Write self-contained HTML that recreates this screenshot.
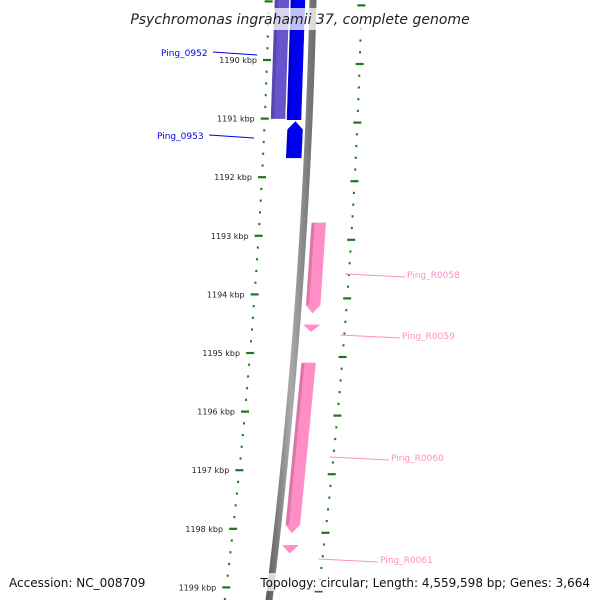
<!DOCTYPE html>
<html><head><meta charset="utf-8"><style>
body{margin:0;background:#fff;}
svg{display:block;font-family:"DejaVu Sans","Liberation Sans",sans-serif;}
</style></head><body>
<svg id="chart" width="600" height="600" viewBox="0 0 600 600">
<defs>
<linearGradient id="gb" x1="0" x2="1"><stop offset="0" stop-color="#555"/><stop offset="0.5" stop-color="#aaa"/><stop offset="1" stop-color="#666"/></linearGradient>
</defs>
<g id="ticks"></g>
<g id="genes"></g>
<g id="labels"></g>
<rect x="130" y="8" width="340" height="22" fill="#fff" fill-opacity="0.75"/>
<text x="300" y="24" text-anchor="middle" font-size="14" font-style="italic" fill="#222">Psychromonas ingrahamii 37, complete genome</text>
<rect x="258" y="573" width="340" height="18" fill="#fff" fill-opacity="0.75"/>
<text x="9" y="587" font-size="12" fill="#111">Accession: NC_008709</text>
<text x="590" y="587" text-anchor="end" font-size="12" fill="#111">Topology: circular; Length: 4,559,598 bp; Genes: 3,664</text>
</svg>
<script>
const majorTicks = [1190,1191,1192,1193,1194,1195,1196,1197,1198,1199];
const tickLabels = ["1190 kbp","1191 kbp","1192 kbp","1193 kbp","1194 kbp","1195 kbp","1196 kbp","1197 kbp","1198 kbp","1199 kbp"];
const geneNames = ["Ping_0952","Ping_0951","Ping_0953","Ping_R0058","Ping_R0059","Ping_R0060","Ping_R0061"];
const geneStart = [1188.9, 1188.9, 1191.05, 1192.78, 1194.52, 1195.17, 1198.28];
const geneEnd   = [1191.0, 1191.02, 1191.67, 1194.32, 1194.62, 1198.07, 1198.40];
const geneStrand = [-1, -1, -1, 1, 1, 1, 1];
const geneColor = ["#6655cc","#0000ee","#0000ee","#ff8ec6","#ff8ec6","#ff8ec6","#ff8ec6"];
const labelY = [52, null, 135, 274, 335, 457, 559];
const labelX = [161, null, 157, 407, 402, 391, 380];

const NS='http://www.w3.org/2000/svg';
function yOf(k){return 60+(k-1190)*58.6;}
function curve(y){return 0.0233*y+8.33e-5*y*y;}
function xAt(base,y){return base-curve(y);}
function mk(tag,attrs,parent){const e=document.createElementNS(NS,tag);for(const k in attrs)e.setAttribute(k,attrs[k]);parent.appendChild(e);return e;}
const tg=document.getElementById('ticks'), gg=document.getElementById('genes'), lg=document.getElementById('labels');

const bpts=[];for(let y=-5;y<=605;y+=5)bpts.push([xAt(313,y),y]);
let bb=mk('polygon',{points:bpts.map(p=>(p[0]-3.5)+','+p[1]).concat(bpts.slice().reverse().map(p=>(p[0]+3.5)+','+p[1])).join(' '),fill:'url(#gb)'},gg);



for(let k=1188.8;k<=1199.4;k+=0.2){
  const kk=Math.round(k*10)/10;const y=yOf(kk);
  const isMaj=Math.abs(kk-Math.round(kk))<0.01;
  const xl=xAt(268.7,y);
  let t=mk('line',{x1:xl-(isMaj?4:1),x2:xl+(isMaj?4:1),y1:y,y2:y,stroke:'#1a7a1a','stroke-width':2.2},tg);
  
  
  const yr=y+4, xr=xAt(361.5,yr);
  let r=mk('line',{x1:xr-(isMaj?4:1),x2:xr+(isMaj?4:1),y1:yr,y2:yr,stroke:'#1a7a1a','stroke-width':2.2},tg);
  
  
}
majorTicks.forEach((k,i)=>{
  const y=yOf(k);
  let t=mk('text',{x:xAt(268.7,y)-10,y:y+3,'text-anchor':'end','font-size':8,fill:'#222'},tg);
  t.textContent=tickLabels[i];
  
  
});

geneNames.forEach((n,i)=>{
  const y1=yOf(geneStart[i]), y2=yOf(geneEnd[i]);
  const off = geneStrand[i]<0 ? (i===0?[-38,-24]:(i===1?[-22,-8]:[-21,-6])) : [8,22];
  const col = geneColor[i];
  const head=Math.min(8,(y2-y1));
  const P=(o,y)=> (xAt(313,y)+o)+','+y;
  let pts;
  if(y2-y1<10){
    pts=[P(off[0]-1,y1),P(off[1]+1,y1),P((off[0]+off[1])/2,y2+1)];
  } else if(geneStrand[i]>0){
    pts=[P(off[0],y1),P(off[1],y1),P(off[1],y2-head),P((off[0]+off[1])/2,y2),P(off[0],y2-head)];
  } else if(i===2){
    pts=[P((off[0]+off[1])/2,y1),P(off[1],y1+head),P(off[1],y2),P(off[0],y2),P(off[0],y1+head)];
  } else {
    pts=[P(off[0],y1),P(off[1],y1),P(off[1],y2),P(off[0],y2)];
  }
  let g=mk('polygon',{points:pts.join(' '),fill:col,stroke:col,'stroke-width':0.5},gg);
  
  
  if(y2-y1>=10){
    const ya=y1+(i===2?head:0), yb=y2-(geneStrand[i]>0?head:0);
    let s=mk('polygon',{points:[P(off[0],ya),P(off[0]+3,ya),P(off[0]+3,yb),P(off[0],yb)].join(' '),fill:'#000','fill-opacity':0.15},gg);
    
    
  }
  if(labelY[i]===null) return;
  const ly=labelY[i];
  const left=geneStrand[i]<0;
  const col2=left?'#0000ee':'#ff8ec6';
  const colX = left ? xAt(268.7,ly)-10 : xAt(361.5,ly)-4;
  let ln=mk('line',{x1:left?labelX[i]+52:colX,y1:ly,x2:left?colX:labelX[i]-2,y2:ly+3,stroke:col2,'stroke-width':1},lg);
  
  
  let t=mk('text',{x:labelX[i],y:ly+4,'font-size':9,fill:col2},lg);
  t.textContent=n;
  
  
});
</script>
</body></html>
